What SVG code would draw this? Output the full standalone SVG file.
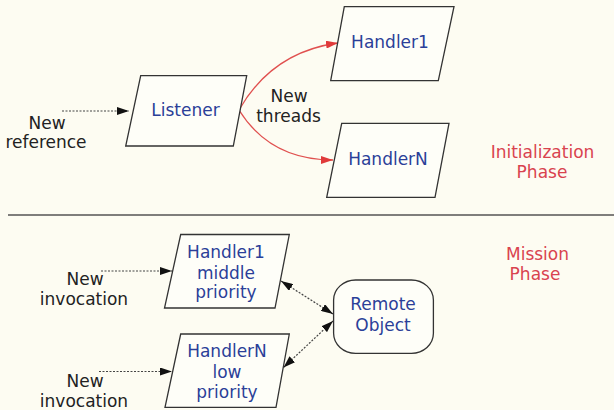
<svg xmlns="http://www.w3.org/2000/svg" width="614" height="410" viewBox="0 0 614 410">
<defs>
<style>
.bg{fill:#fdfcf2}
.box{fill:#fefef8;stroke:#333;stroke-width:1.3}
.nt{font-family:"DejaVu Sans","Liberation Sans",sans-serif;font-size:17px;fill:#2b3f98;text-anchor:middle}
.lb{font-family:"DejaVu Sans","Liberation Sans",sans-serif;font-size:17px;fill:#222;text-anchor:middle}
.ph{font-family:"DejaVu Sans","Liberation Sans",sans-serif;font-size:17px;fill:#d9434f;text-anchor:middle}
.dot{fill:none;stroke:#444;stroke-width:1.2;stroke-dasharray:2 1.5}
.red{fill:none;stroke:#e0504f;stroke-width:1.3}
</style>
<marker id="ab" markerWidth="12" markerHeight="8" refX="12" refY="4" orient="auto-start-reverse" markerUnits="userSpaceOnUse">
<path d="M0,0 L12,4 L0,8 z" fill="#111"/>
</marker>
<marker id="ar" markerWidth="12" markerHeight="8" refX="12" refY="4" orient="auto" markerUnits="userSpaceOnUse">
<path d="M0,0 L12,4 L0,8 z" fill="#e03a3a"/>
</marker>
</defs>
<rect class="bg" x="0" y="0" width="614" height="410"/>
<line x1="8" y1="215" x2="614" y2="215" stroke="#555" stroke-width="1.5"/>

<g id="connectors">
<path class="dot" d="M62,111 L129,111" marker-end="url(#ab)"/>
<path class="red" d="M239,110 Q272,52 338,43" marker-end="url(#ar)"/>
<path class="red" d="M239,110 Q270,160 333,160" marker-end="url(#ar)"/>
<path class="dot" d="M101,271 L172,271" marker-end="url(#ab)"/>
<path class="dot" d="M99,371.5 L172,371.5" marker-end="url(#ab)"/>
<path class="dot" d="M281,281 L333,314" marker-start="url(#ab)" marker-end="url(#ab)"/>
<path class="dot" d="M283.5,367.5 L333,321" marker-start="url(#ab)" marker-end="url(#ab)"/>
</g>

<g id="listener">
<polygon class="box" points="140.7,75.7 246.7,75.7 233.3,146 125.7,146"/>
<text class="nt" x="185.5" y="116">Listener</text>
</g>
<g id="handler1-init">
<polygon class="box" points="344.3,6.7 454,6.7 438.3,80.7 330.7,80.7"/>
<text class="nt" x="390" y="48">Handler1</text>
</g>
<g id="handlerN-init">
<polygon class="box" points="341.7,123.3 449,123.3 435,197.3 326.7,197.3"/>
<text class="nt" x="388" y="165">HandlerN</text>
</g>
<g id="handler1-mission">
<polygon class="box" points="180.7,234.5 289.3,234.5 275,308 164.5,308"/>
<text class="nt" x="226" y="258">Handler1</text>
<text class="nt" x="226" y="278.5">middle</text>
<text class="nt" x="226" y="298">priority</text>
</g>
<g id="handlerN-mission">
<polygon class="box" points="180.7,334 289.3,334 276,407.3 165,407.3"/>
<text class="nt" x="227" y="357">HandlerN</text>
<text class="nt" x="227" y="377.5">low</text>
<text class="nt" x="227" y="397.5">priority</text>
</g>
<g id="remote-object">
<rect class="box" x="333.6" y="280" width="99.8" height="73.3" rx="22" ry="20"/>
<text class="nt" x="383" y="310">Remote</text>
<text class="nt" x="383" y="330.5">Object</text>
</g>

<g id="labels">
<text class="lb" x="47" y="128.5">New</text>
<text class="lb" x="46" y="148">reference</text>
<text class="lb" x="289" y="102">New</text>
<text class="lb" x="288.5" y="122">threads</text>
<text class="lb" x="85" y="285">New</text>
<text class="lb" x="84" y="305">invocation</text>
<text class="lb" x="85" y="386.5">New</text>
<text class="lb" x="84" y="406.5">invocation</text>
<text class="ph" x="542.5" y="158">Initialization</text>
<text class="ph" x="542" y="178">Phase</text>
<text class="ph" x="537.5" y="260">Mission</text>
<text class="ph" x="535" y="280">Phase</text>
</g>
</svg>
